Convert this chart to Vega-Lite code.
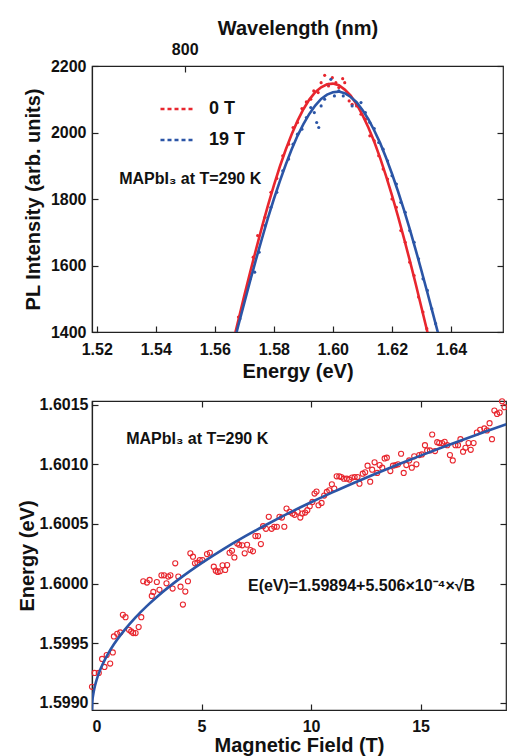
{
  "$schema": "https://vega.github.io/schema/vega-lite/v6.json",
  "padding": {"left": 16, "top": 17, "right": 0, "bottom": 0},
  "background": "white",
  "spacing": 13,
  "config": {
    "view": {"stroke": "#222222", "strokeWidth": 1.2},
    "axis": {
      "grid": false,
      "domainColor": "#222222",
      "domainWidth": 1.2,
      "tickColor": "#222222",
      "tickWidth": 1.2,
      "tickSize": -6,
      "labelFont": "Liberation Sans",
      "labelFontWeight": "bold",
      "labelFontSize": 16,
      "labelColor": "#111111",
      "titleFont": "Liberation Sans",
      "titleFontWeight": "bold",
      "titleFontSize": 20,
      "titleColor": "#111111"
    },
    "text": {"font": "Liberation Sans"}
  },
  "resolve": {"scale": {"color": "independent"}, "legend": {"color": "independent"}},
  "datasets": {
    "top_fit": [
      {"series": "0 T", "E": 1.566, "I": 1363}, {"series": "0 T", "E": 1.568, "I": 1437}, {"series": "0 T", "E": 1.570, "I": 1510},
      {"series": "0 T", "E": 1.572, "I": 1581}, {"series": "0 T", "E": 1.574, "I": 1650}, {"series": "0 T", "E": 1.576, "I": 1717},
      {"series": "0 T", "E": 1.578, "I": 1781}, {"series": "0 T", "E": 1.580, "I": 1841}, {"series": "0 T", "E": 1.582, "I": 1897},
      {"series": "0 T", "E": 1.584, "I": 1948}, {"series": "0 T", "E": 1.586, "I": 1994}, {"series": "0 T", "E": 1.588, "I": 2035},
      {"series": "0 T", "E": 1.590, "I": 2070}, {"series": "0 T", "E": 1.592, "I": 2099}, {"series": "0 T", "E": 1.594, "I": 2121},
      {"series": "0 T", "E": 1.596, "I": 2136}, {"series": "0 T", "E": 1.598, "I": 2145}, {"series": "0 T", "E": 1.600, "I": 2147},
      {"series": "0 T", "E": 1.602, "I": 2142}, {"series": "0 T", "E": 1.604, "I": 2129}, {"series": "0 T", "E": 1.606, "I": 2111},
      {"series": "0 T", "E": 1.608, "I": 2085}, {"series": "0 T", "E": 1.610, "I": 2053}, {"series": "0 T", "E": 1.612, "I": 2015},
      {"series": "0 T", "E": 1.614, "I": 1972}, {"series": "0 T", "E": 1.616, "I": 1923}, {"series": "0 T", "E": 1.618, "I": 1869},
      {"series": "0 T", "E": 1.620, "I": 1811}, {"series": "0 T", "E": 1.622, "I": 1749}, {"series": "0 T", "E": 1.624, "I": 1684},
      {"series": "0 T", "E": 1.626, "I": 1616}, {"series": "0 T", "E": 1.628, "I": 1546}, {"series": "0 T", "E": 1.630, "I": 1473},
      {"series": "0 T", "E": 1.632, "I": 1400}, {"series": "0 T", "E": 1.634, "I": 1326},
      {"series": "19 T", "E": 1.566, "I": 1352}, {"series": "19 T", "E": 1.568, "I": 1421}, {"series": "19 T", "E": 1.570, "I": 1488},
      {"series": "19 T", "E": 1.572, "I": 1555}, {"series": "19 T", "E": 1.574, "I": 1620}, {"series": "19 T", "E": 1.576, "I": 1682},
      {"series": "19 T", "E": 1.578, "I": 1743}, {"series": "19 T", "E": 1.580, "I": 1800}, {"series": "19 T", "E": 1.582, "I": 1853},
      {"series": "19 T", "E": 1.584, "I": 1903}, {"series": "19 T", "E": 1.586, "I": 1949}, {"series": "19 T", "E": 1.588, "I": 1990},
      {"series": "19 T", "E": 1.590, "I": 2025}, {"series": "19 T", "E": 1.592, "I": 2056}, {"series": "19 T", "E": 1.594, "I": 2081},
      {"series": "19 T", "E": 1.596, "I": 2101}, {"series": "19 T", "E": 1.598, "I": 2114}, {"series": "19 T", "E": 1.600, "I": 2121},
      {"series": "19 T", "E": 1.602, "I": 2123}, {"series": "19 T", "E": 1.604, "I": 2118}, {"series": "19 T", "E": 1.606, "I": 2107},
      {"series": "19 T", "E": 1.608, "I": 2091}, {"series": "19 T", "E": 1.610, "I": 2068}, {"series": "19 T", "E": 1.612, "I": 2040},
      {"series": "19 T", "E": 1.614, "I": 2006}, {"series": "19 T", "E": 1.616, "I": 1968}, {"series": "19 T", "E": 1.618, "I": 1924},
      {"series": "19 T", "E": 1.620, "I": 1876}, {"series": "19 T", "E": 1.622, "I": 1824}, {"series": "19 T", "E": 1.624, "I": 1769},
      {"series": "19 T", "E": 1.626, "I": 1710}, {"series": "19 T", "E": 1.628, "I": 1648}, {"series": "19 T", "E": 1.630, "I": 1584},
      {"series": "19 T", "E": 1.632, "I": 1518}, {"series": "19 T", "E": 1.634, "I": 1451}, {"series": "19 T", "E": 1.636, "I": 1383}
    ],
    "top_pts": [
      {"series": "0 T", "E": 1.5680, "I": 1445}, {"series": "0 T", "E": 1.5700, "I": 1500}, {"series": "0 T", "E": 1.5730, "I": 1625},
      {"series": "0 T", "E": 1.5745, "I": 1690}, {"series": "0 T", "E": 1.5770, "I": 1745}, {"series": "0 T", "E": 1.5790, "I": 1820},
      {"series": "0 T", "E": 1.5810, "I": 1862}, {"series": "0 T", "E": 1.5830, "I": 1930}, {"series": "0 T", "E": 1.5850, "I": 1965},
      {"series": "0 T", "E": 1.5865, "I": 2015}, {"series": "0 T", "E": 1.5880, "I": 2030}, {"series": "0 T", "E": 1.5895, "I": 2072},
      {"series": "0 T", "E": 1.5910, "I": 2092}, {"series": "0 T", "E": 1.5925, "I": 2100}, {"series": "0 T", "E": 1.5935, "I": 2125},
      {"series": "0 T", "E": 1.5950, "I": 2120}, {"series": "0 T", "E": 1.5960, "I": 2150}, {"series": "0 T", "E": 1.5972, "I": 2172},
      {"series": "0 T", "E": 1.5985, "I": 2140}, {"series": "0 T", "E": 1.5998, "I": 2165}, {"series": "0 T", "E": 1.6010, "I": 2150},
      {"series": "0 T", "E": 1.6020, "I": 2135}, {"series": "0 T", "E": 1.6033, "I": 2162}, {"series": "0 T", "E": 1.6040, "I": 2150},
      {"series": "0 T", "E": 1.6055, "I": 2095}, {"series": "0 T", "E": 1.6065, "I": 2085}, {"series": "0 T", "E": 1.6080, "I": 2080},
      {"series": "0 T", "E": 1.6095, "I": 2055}, {"series": "0 T", "E": 1.6110, "I": 2040}, {"series": "0 T", "E": 1.6125, "I": 1990},
      {"series": "0 T", "E": 1.6140, "I": 1975}, {"series": "0 T", "E": 1.6155, "I": 1930}, {"series": "0 T", "E": 1.6170, "I": 1890},
      {"series": "0 T", "E": 1.6185, "I": 1860}, {"series": "0 T", "E": 1.6200, "I": 1800}, {"series": "0 T", "E": 1.6215, "I": 1775},
      {"series": "0 T", "E": 1.6230, "I": 1705}, {"series": "0 T", "E": 1.6245, "I": 1670}, {"series": "0 T", "E": 1.6260, "I": 1610},
      {"series": "0 T", "E": 1.6275, "I": 1570}, {"series": "0 T", "E": 1.6290, "I": 1505}, {"series": "0 T", "E": 1.6305, "I": 1460},
      {"series": "0 T", "E": 1.6318, "I": 1410},
      {"series": "19 T", "E": 1.5685, "I": 1440}, {"series": "19 T", "E": 1.5700, "I": 1495}, {"series": "19 T", "E": 1.5720, "I": 1560},
      {"series": "19 T", "E": 1.5735, "I": 1580}, {"series": "19 T", "E": 1.5750, "I": 1640}, {"series": "19 T", "E": 1.5770, "I": 1720},
      {"series": "19 T", "E": 1.5790, "I": 1775}, {"series": "19 T", "E": 1.5810, "I": 1820}, {"series": "19 T", "E": 1.5830, "I": 1885},
      {"series": "19 T", "E": 1.5850, "I": 1920}, {"series": "19 T", "E": 1.5865, "I": 1965}, {"series": "19 T", "E": 1.5880, "I": 1995},
      {"series": "19 T", "E": 1.5895, "I": 2010}, {"series": "19 T", "E": 1.5910, "I": 2045}, {"series": "19 T", "E": 1.5925, "I": 2075},
      {"series": "19 T", "E": 1.5937, "I": 2060}, {"series": "19 T", "E": 1.5945, "I": 2030}, {"series": "19 T", "E": 1.5952, "I": 2015},
      {"series": "19 T", "E": 1.5960, "I": 2080}, {"series": "19 T", "E": 1.5972, "I": 2100}, {"series": "19 T", "E": 1.5985, "I": 2145},
      {"series": "19 T", "E": 1.5993, "I": 2160}, {"series": "19 T", "E": 1.6005, "I": 2110}, {"series": "19 T", "E": 1.6020, "I": 2125},
      {"series": "19 T", "E": 1.6035, "I": 2110}, {"series": "19 T", "E": 1.6050, "I": 2115}, {"series": "19 T", "E": 1.6065, "I": 2080},
      {"series": "19 T", "E": 1.6080, "I": 2085}, {"series": "19 T", "E": 1.6095, "I": 2090}, {"series": "19 T", "E": 1.6110, "I": 2060},
      {"series": "19 T", "E": 1.6125, "I": 2030}, {"series": "19 T", "E": 1.6140, "I": 2012}, {"series": "19 T", "E": 1.6155, "I": 1970},
      {"series": "19 T", "E": 1.6170, "I": 1950}, {"series": "19 T", "E": 1.6185, "I": 1915}, {"series": "19 T", "E": 1.6200, "I": 1870},
      {"series": "19 T", "E": 1.6215, "I": 1845}, {"series": "19 T", "E": 1.6230, "I": 1790}, {"series": "19 T", "E": 1.6245, "I": 1760},
      {"series": "19 T", "E": 1.6260, "I": 1705}, {"series": "19 T", "E": 1.6275, "I": 1670}, {"series": "19 T", "E": 1.6290, "I": 1620},
      {"series": "19 T", "E": 1.6305, "I": 1560}, {"series": "19 T", "E": 1.6320, "I": 1525}, {"series": "19 T", "E": 1.6335, "I": 1470},
      {"series": "19 T", "E": 1.6348, "I": 1425}
    ],
    "bot_fit": [
      {"B": 0, "E": 1.598940}, {"B": 0.02, "E": 1.599018}, {"B": 0.05, "E": 1.599063}, {"B": 0.1, "E": 1.599114},
      {"B": 0.2, "E": 1.599186}, {"B": 0.35, "E": 1.599266}, {"B": 0.5, "E": 1.599329}, {"B": 0.75, "E": 1.599417},
      {"B": 1, "E": 1.599491}, {"B": 1.5, "E": 1.599614}, {"B": 2, "E": 1.599719}, {"B": 2.5, "E": 1.599811},
      {"B": 3, "E": 1.599894}, {"B": 4, "E": 1.600041}, {"B": 5, "E": 1.600171}, {"B": 6, "E": 1.600289},
      {"B": 7, "E": 1.600397}, {"B": 8, "E": 1.600497}, {"B": 9, "E": 1.600592}, {"B": 10, "E": 1.600681},
      {"B": 11, "E": 1.600766}, {"B": 12, "E": 1.600847}, {"B": 13, "E": 1.600925}, {"B": 14, "E": 1.601000},
      {"B": 15, "E": 1.601072}, {"B": 16, "E": 1.601142}, {"B": 17, "E": 1.601210}, {"B": 18, "E": 1.601276},
      {"B": 19, "E": 1.601340}
    ],
    "bot_pts": [
      {"B": 0.00, "E": 1.599134}, {"B": 0.12, "E": 1.599251}, {"B": 0.31, "E": 1.599251}, {"B": 0.46, "E": 1.599368},
      {"B": 0.57, "E": 1.599301}, {"B": 0.67, "E": 1.599401}, {"B": 0.83, "E": 1.599329}, {"B": 0.95, "E": 1.599423},
      {"B": 1.00, "E": 1.599557}, {"B": 1.15, "E": 1.599579}, {"B": 1.29, "E": 1.599590}, {"B": 1.41, "E": 1.599738},
      {"B": 1.53, "E": 1.599718}, {"B": 1.69, "E": 1.599612}, {"B": 1.79, "E": 1.599599}, {"B": 1.88, "E": 1.599585},
      {"B": 1.99, "E": 1.599585}, {"B": 2.13, "E": 1.599635}, {"B": 2.25, "E": 1.599718}, {"B": 2.34, "E": 1.600019},
      {"B": 2.51, "E": 1.600008}, {"B": 2.63, "E": 1.600030}, {"B": 2.73, "E": 1.599896}, {"B": 2.80, "E": 1.599930},
      {"B": 2.96, "E": 1.600013}, {"B": 3.08, "E": 1.599947}, {"B": 3.17, "E": 1.600069}, {"B": 3.29, "E": 1.600069},
      {"B": 3.40, "E": 1.600002}, {"B": 3.48, "E": 1.600058}, {"B": 3.58, "E": 1.600069}, {"B": 3.68, "E": 1.599958},
      {"B": 3.80, "E": 1.600169}, {"B": 3.94, "E": 1.600058}, {"B": 4.04, "E": 1.599974}, {"B": 4.15, "E": 1.599824},
      {"B": 4.26, "E": 1.599933}, {"B": 4.38, "E": 1.600019}, {"B": 4.49, "E": 1.600253}, {"B": 4.61, "E": 1.600225},
      {"B": 4.70, "E": 1.600169}, {"B": 4.81, "E": 1.600175}, {"B": 4.92, "E": 1.600197}, {"B": 5.04, "E": 1.600197},
      {"B": 5.25, "E": 1.600247}, {"B": 5.38, "E": 1.600258}, {"B": 5.56, "E": 1.600141}, {"B": 5.65, "E": 1.600108},
      {"B": 5.74, "E": 1.600097}, {"B": 5.84, "E": 1.600103}, {"B": 5.96, "E": 1.600153}, {"B": 6.08, "E": 1.600114},
      {"B": 6.17, "E": 1.600155}, {"B": 6.28, "E": 1.600258}, {"B": 6.39, "E": 1.600275}, {"B": 6.50, "E": 1.600219},
      {"B": 6.63, "E": 1.600336}, {"B": 6.72, "E": 1.600325}, {"B": 6.86, "E": 1.600320}, {"B": 6.97, "E": 1.600253},
      {"B": 7.08, "E": 1.600325}, {"B": 7.23, "E": 1.600281}, {"B": 7.35, "E": 1.600270}, {"B": 7.46, "E": 1.600398},
      {"B": 7.58, "E": 1.600398}, {"B": 7.71, "E": 1.600331}, {"B": 7.81, "E": 1.600481}, {"B": 7.94, "E": 1.600459},
      {"B": 8.07, "E": 1.600559}, {"B": 8.20, "E": 1.600459}, {"B": 8.32, "E": 1.600476}, {"B": 8.44, "E": 1.600476},
      {"B": 8.56, "E": 1.600559}, {"B": 8.67, "E": 1.600553}, {"B": 8.78, "E": 1.600476}, {"B": 8.88, "E": 1.600629},
      {"B": 9.02, "E": 1.600601}, {"B": 9.15, "E": 1.600587}, {"B": 9.25, "E": 1.600576}, {"B": 9.39, "E": 1.600601},
      {"B": 9.51, "E": 1.600553}, {"B": 9.60, "E": 1.600587}, {"B": 9.73, "E": 1.600595}, {"B": 9.83, "E": 1.600615},
      {"B": 9.94, "E": 1.600648}, {"B": 10.06, "E": 1.600684}, {"B": 10.16, "E": 1.600754}, {"B": 10.25, "E": 1.600771},
      {"B": 10.34, "E": 1.600656}, {"B": 10.48, "E": 1.600676}, {"B": 10.60, "E": 1.600737}, {"B": 10.72, "E": 1.600768},
      {"B": 10.83, "E": 1.600782}, {"B": 10.95, "E": 1.600832}, {"B": 11.06, "E": 1.600796}, {"B": 11.17, "E": 1.600899},
      {"B": 11.29, "E": 1.600899}, {"B": 11.38, "E": 1.600893}, {"B": 11.50, "E": 1.600879}, {"B": 11.63, "E": 1.600879},
      {"B": 11.75, "E": 1.600871}, {"B": 11.87, "E": 1.600888}, {"B": 11.99, "E": 1.600893}, {"B": 12.12, "E": 1.600893},
      {"B": 12.21, "E": 1.600837}, {"B": 12.36, "E": 1.600921}, {"B": 12.47, "E": 1.600932}, {"B": 12.58, "E": 1.600988},
      {"B": 12.70, "E": 1.600854}, {"B": 12.79, "E": 1.600954}, {"B": 12.90, "E": 1.601016}, {"B": 13.02, "E": 1.600927},
      {"B": 13.13, "E": 1.600993}, {"B": 13.25, "E": 1.600971}, {"B": 13.36, "E": 1.601049}, {"B": 13.46, "E": 1.601055},
      {"B": 13.62, "E": 1.600943}, {"B": 13.74, "E": 1.600988}, {"B": 13.86, "E": 1.600993}, {"B": 13.97, "E": 1.600999},
      {"B": 14.11, "E": 1.601088}, {"B": 14.23, "E": 1.600927}, {"B": 14.35, "E": 1.600993}, {"B": 14.48, "E": 1.601032},
      {"B": 14.60, "E": 1.600971}, {"B": 14.71, "E": 1.601066}, {"B": 14.81, "E": 1.600999}, {"B": 14.94, "E": 1.601077},
      {"B": 15.06, "E": 1.601082}, {"B": 15.20, "E": 1.601160}, {"B": 15.30, "E": 1.601116}, {"B": 15.43, "E": 1.601116},
      {"B": 15.53, "E": 1.601249}, {"B": 15.66, "E": 1.601110}, {"B": 15.76, "E": 1.601185}, {"B": 15.85, "E": 1.601177},
      {"B": 15.98, "E": 1.601177}, {"B": 16.10, "E": 1.601188}, {"B": 16.22, "E": 1.601160}, {"B": 16.34, "E": 1.601077},
      {"B": 16.47, "E": 1.601032}, {"B": 16.59, "E": 1.601160}, {"B": 16.71, "E": 1.601160}, {"B": 16.82, "E": 1.601210},
      {"B": 16.94, "E": 1.601105}, {"B": 17.05, "E": 1.601138}, {"B": 17.19, "E": 1.601177}, {"B": 17.29, "E": 1.601121},
      {"B": 17.42, "E": 1.601177}, {"B": 17.57, "E": 1.601266}, {"B": 17.72, "E": 1.601288}, {"B": 17.91, "E": 1.601300},
      {"B": 18.03, "E": 1.601283}, {"B": 18.15, "E": 1.601344}, {"B": 18.26, "E": 1.601210}, {"B": 18.37, "E": 1.601450},
      {"B": 18.49, "E": 1.601422}, {"B": 18.61, "E": 1.601433}, {"B": 18.72, "E": 1.601528}, {"B": 18.83, "E": 1.601478}
    ]
  },
  "vconcat": [
    {
      "width": 411,
      "height": 266,
      "layer": [
        {
          "data": {"name": "top_pts"},
          "mark": {"type": "point", "filled": true, "size": 10, "opacity": 1, "clip": true},
          "encoding": {
            "x": {"field": "E", "type": "quantitative",
                  "scale": {"domain": [1.5184, 1.6576], "nice": false, "zero": false},
                  "axis": {"orient": "bottom", "values": [1.52, 1.54, 1.56, 1.58, 1.60, 1.62, 1.64], "format": ".2f",
                           "title": "Energy (eV)", "labelPadding": 15, "titlePadding": 4}},
            "y": {"field": "I", "type": "quantitative",
                  "scale": {"domain": [1400, 2200], "nice": false, "zero": false},
                  "axis": {"orient": "left", "values": [1400, 1600, 1800, 2000, 2200], "format": "d",
                           "title": "PL Intensity (arb. units)", "labelPadding": 12, "titlePadding": 7}},
            "color": {"field": "series", "type": "nominal",
                      "scale": {"domain": ["0 T", "19 T"], "range": ["#e8262e", "#2b55a6"]},
                      "legend": {"orient": "none", "legendX": 67, "legendY": 24, "title": null,
                                 "symbolType": "stroke", "symbolSize": 1225, "symbolStrokeWidth": 2.5,
                                 "symbolDash": [4, 3], "labelFont": "Liberation Sans", "labelFontWeight": "bold",
                                 "labelFontSize": 18, "labelColor": "#111111", "labelOffset": 12,
                                 "rowPadding": 3, "padding": 0}}
          }
        },
        {
          "data": {"name": "top_fit"},
          "mark": {"type": "line", "strokeWidth": 2.6, "clip": true},
          "encoding": {
            "x": {"field": "E", "type": "quantitative",
                  "scale": {"domain": [1.5184, 1.6576], "nice": false, "zero": false}, "axis": null},
            "y": {"field": "I", "type": "quantitative",
                  "scale": {"domain": [1400, 2200], "nice": false, "zero": false}, "axis": null},
            "color": {"field": "series", "type": "nominal",
                      "scale": {"domain": ["0 T", "19 T"], "range": ["#e8262e", "#2b55a6"]},
                      "legend": {"orient": "none", "legendX": 67, "legendY": 24, "title": null,
                                 "symbolType": "stroke", "symbolSize": 1225, "symbolStrokeWidth": 2.5,
                                 "symbolDash": [4, 3], "labelFont": "Liberation Sans", "labelFontWeight": "bold",
                                 "labelFontSize": 18, "labelColor": "#111111", "labelOffset": 12,
                                 "rowPadding": 3, "padding": 0}}
          }
        },
        {
          "data": {"values": [{}]},
          "mark": {"type": "text", "text": "MAPbI₃  at T=290 K", "align": "left", "baseline": "middle",
                   "fontWeight": "bold", "fontSize": 16, "color": "#111111"},
          "encoding": {
            "x": {"datum": 1.5276, "type": "quantitative",
                  "scale": {"domain": [1.5184, 1.6576], "nice": false, "zero": false},
                  "axis": {"orient": "top", "values": [1.5498], "labelExpr": "'800'", "title": "Wavelength (nm)",
                           "labelPadding": 15, "titlePadding": 3, "domain": false}},
            "y": {"datum": 1860, "type": "quantitative",
                  "scale": {"domain": [1400, 2200], "nice": false, "zero": false},
                  "axis": {"orient": "right", "values": [1400, 1600, 1800, 2000, 2200], "labels": false,
                           "title": null, "domain": false}}
          }
        }
      ],
      "resolve": {"axis": {"x": "independent", "y": "independent"}}
    },
    {
      "width": 414,
      "height": 309,
      "layer": [
        {
          "data": {"name": "bot_pts"},
          "mark": {"type": "point", "filled": false, "size": 26, "strokeWidth": 1.1, "color": "#e8262e", "opacity": 1},
          "encoding": {
            "x": {"field": "B", "type": "quantitative",
                  "scale": {"domain": [0, 18.9], "nice": false, "zero": false},
                  "axis": {"orient": "bottom", "values": [0, 5, 10, 15], "format": "d",
                           "title": "Magnetic Field (T)", "labelPadding": 14, "titlePadding": 1}},
            "y": {"field": "E", "type": "quantitative",
                  "scale": {"domain": [1.59894, 1.60153], "nice": false, "zero": false},
                  "axis": {"orient": "left", "values": [1.599, 1.5995, 1.6, 1.6005, 1.601, 1.6015], "format": ".4f",
                           "title": "Energy (eV)", "labelPadding": 10, "titlePadding": 2}}
          }
        },
        {
          "data": {"name": "bot_fit"},
          "mark": {"type": "line", "strokeWidth": 2.6, "color": "#2b55a6", "clip": true, "interpolate": "monotone"},
          "encoding": {
            "x": {"field": "B", "type": "quantitative",
                  "scale": {"domain": [0, 18.9], "nice": false, "zero": false}, "axis": null},
            "y": {"field": "E", "type": "quantitative",
                  "scale": {"domain": [1.59894, 1.60153], "nice": false, "zero": false}, "axis": null}
          }
        },
        {
          "data": {"values": [{}]},
          "mark": {"type": "text", "text": "MAPbI₃  at T=290 K", "align": "left", "baseline": "middle",
                   "fontWeight": "bold", "fontSize": 16, "color": "#111111"},
          "encoding": {
            "x": {"datum": 1.56, "type": "quantitative",
                  "scale": {"domain": [0, 18.9], "nice": false, "zero": false},
                  "axis": {"orient": "top", "values": [0, 5, 10, 15], "labels": false, "title": null, "domain": false}},
            "y": {"datum": 1.60121, "type": "quantitative",
                  "scale": {"domain": [1.59894, 1.60153], "nice": false, "zero": false},
                  "axis": {"orient": "right", "values": [1.599, 1.5995, 1.6, 1.6005, 1.601, 1.6015], "labels": false,
                           "title": null, "domain": false}}
          }
        },
        {
          "data": {"values": [{}]},
          "mark": {"type": "text", "text": "E(eV)=1.59894+5.506×10⁻⁴×√B", "align": "left", "baseline": "middle",
                   "fontWeight": "bold", "fontSize": 16, "color": "#111111"},
          "encoding": {
            "x": {"datum": 7.12, "type": "quantitative",
                  "scale": {"domain": [0, 18.9], "nice": false, "zero": false}, "axis": null},
            "y": {"datum": 1.59998, "type": "quantitative",
                  "scale": {"domain": [1.59894, 1.60153], "nice": false, "zero": false}, "axis": null}
          }
        }
      ],
      "resolve": {"axis": {"x": "independent", "y": "independent"}}
    }
  ]
}
